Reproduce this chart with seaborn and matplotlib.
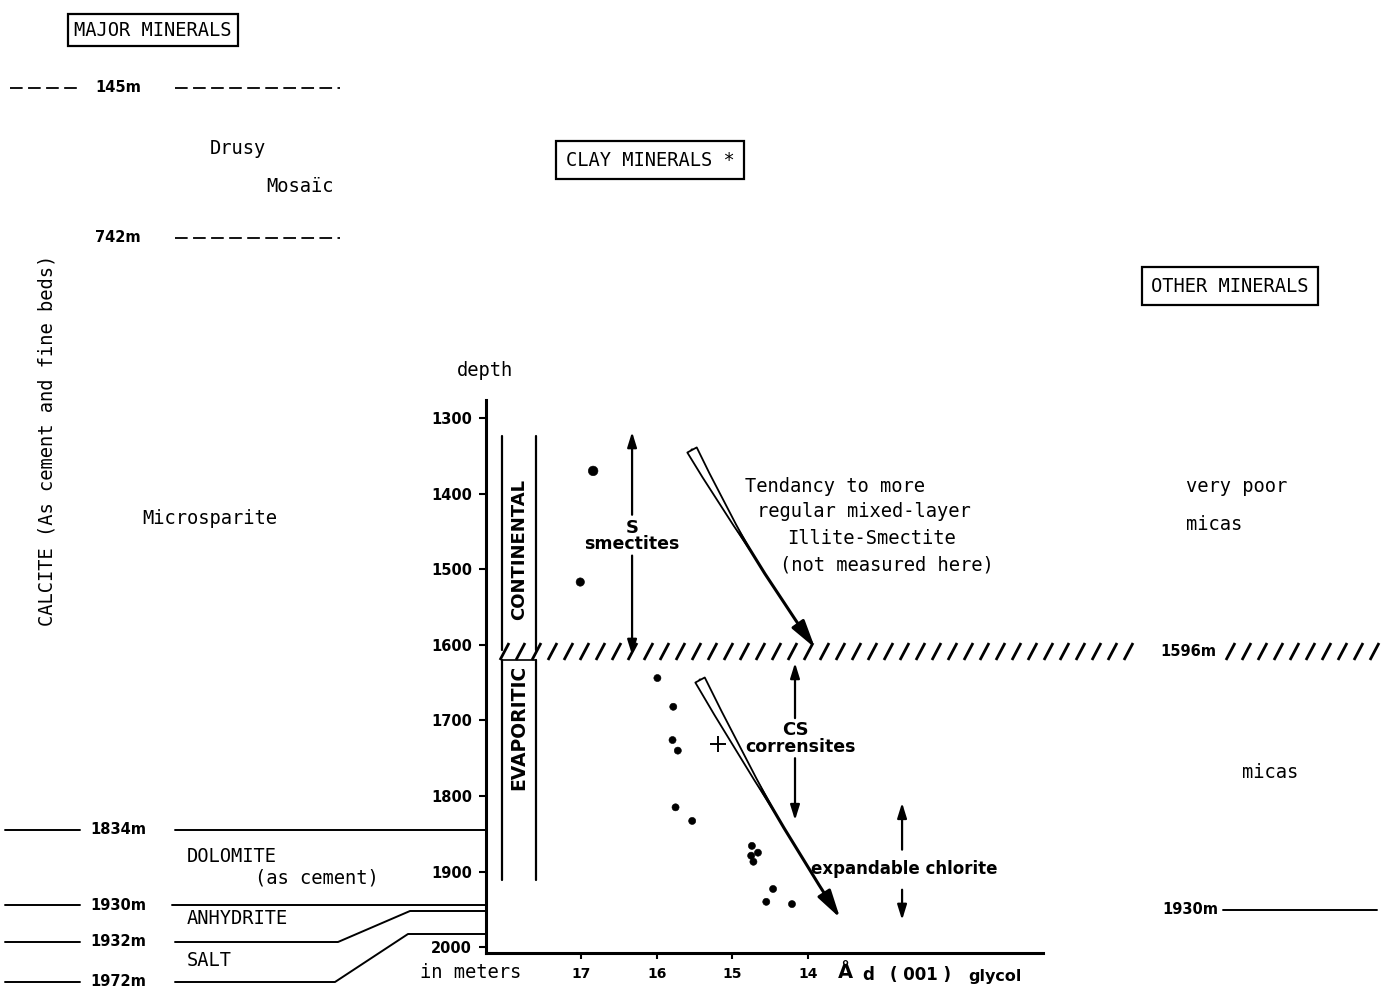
import numpy as np
import pandas as pd
import matplotlib
matplotlib.use("Agg")
import matplotlib.pyplot as plt
import seaborn as sns
from matplotlib.patches import FancyArrowPatch

# ---------------- data ----------------
d_spacing = [16.84, 17.01, 15.99, 15.78, 15.79, 15.72, 15.75, 15.53,
             14.74, 14.66, 14.75, 14.72, 14.46, 14.55, 14.21]
depth_m = [1370, 1517, 1644, 1682, 1726, 1740, 1815, 1833,
           1866, 1875, 1879, 1887, 1923, 1940, 1943]
dot_size = [48, 36, 26, 26, 26, 26, 26, 26, 26, 26, 26, 26, 26, 26, 26]
cross_d = [15.19]
cross_depth = [1731]
depth_ticks = [1300, 1400, 1500, 1600, 1700, 1800, 1900, 2000]
d_ticks = [17, 16, 15, 14]
d_tick_labels = ["17", "16", "15", "14"]
major_depth_labels = ["145m", "742m", "1834m", "1930m", "1932m", "1972m"]
other_depth_labels = ["1596m", "1930m"]

df = pd.DataFrame({"d": d_spacing, "depth": depth_m, "size": dot_size})

# ---------------- figure ----------------
sns.set_style("white")
plt.rcParams["font.family"] = ["DejaVu Sans"]
plt.rcParams["text.color"] = "black"
plt.rcParams["xtick.color"] = "black"
plt.rcParams["ytick.color"] = "black"
plt.rcParams["axes.labelcolor"] = "black"
W, H = 1389, 990
fig = plt.figure(figsize=(W / 100, H / 100), dpi=100)

MONO = "DejaVu Sans Mono"
BOLD = dict(family="DejaVu Sans", fontweight="bold")

# overlay in figure pixel space for the schematic column annotations
ov = fig.add_axes([0, 0, 1, 1], zorder=0)
ov.set_xlim(0, W)
ov.set_ylim(H, 0)
ov.axis("off")

# main clay-mineral axes
ax = fig.add_axes([486 / W, 1 - 953 / H, (1043 - 486) / W, (953 - 400) / H], zorder=1)
ax.patch.set_alpha(0)

# scatter points
sns.scatterplot(data=df, x="d", y="depth", size="size", sizes=(26, 48),
                color="black", edgecolor="black", legend=False, ax=ax, zorder=5)
ax.plot(cross_d, cross_depth, marker="+", color="black", ms=11, mew=1.4, ls="none")

ax.set_xlim(18.257, 10.89)
ax.set_ylim(2007.7, 1276.2)
ax.set_xlabel("")
ax.set_ylabel("")
for s in ["top", "right"]:
    ax.spines[s].set_visible(False)
for s in ["left", "bottom"]:
    ax.spines[s].set_linewidth(2.2)
    ax.spines[s].set_color("black")

ax.set_yticks(depth_ticks)
ax.set_yticklabels([str(t) for t in depth_ticks], fontsize=10.5, **BOLD)
ax.set_xticks(d_ticks)
ax.set_xticklabels(d_tick_labels, fontsize=10, **BOLD)
ax.tick_params(axis="y", direction="out", length=5, width=1.5, pad=5, left=True)
ax.tick_params(axis="x", direction="out", length=4, width=1.5, pad=6, bottom=True)

# CONTINENTAL / EVAPORITIC boxes
for xv in [18.045, 17.595]:
    ax.plot([xv, xv], [1323.8, 1606.9], color="black", lw=1.6)
    ax.plot([xv, xv], [1620, 1911], color="black", lw=1.6)
ax.plot([18.045, 17.595], [1620, 1620], color="black", lw=1.2)
ax.text(17.82, 1474.6, "CONTINENTAL", rotation=90, ha="center", va="center",
        fontsize=13, **BOLD)
ax.text(17.82, 1709, "EVAPORITIC", rotation=90, ha="center", va="center",
        fontsize=13.5, **BOLD)

# vertical double arrows (split around labels)
def varrow(x, y_from, y_to):
    ax.annotate("", xy=(x, y_to), xytext=(x, y_from),
                arrowprops=dict(arrowstyle="-|>,head_length=0.9,head_width=0.28",
                                lw=1.6, color="black", shrinkA=0, shrinkB=0))

varrow(16.325, 1428, 1318.5)
varrow(16.325, 1482, 1613.5)
ax.text(16.325, 1445, "S", ha="center", va="center", fontsize=13, **BOLD)
ax.text(16.325, 1467, "smectites", ha="center", va="center", fontsize=12.5, **BOLD)

varrow(14.17, 1697, 1624)
varrow(14.17, 1750, 1832)
ax.text(14.17, 1713, "CS", ha="center", va="center", fontsize=13, **BOLD)
ax.text(14.10, 1735, "corrensites", ha="center", va="center", fontsize=12.5, **BOLD)

varrow(12.754, 1871, 1809)
varrow(12.754, 1924, 1964)
ax.text(12.72, 1897, "expandable chlorite", ha="center", va="center", fontsize=12, **BOLD)

# curved hollow trend arrows
def trend_arrow(p0, p1, rad, hollow_cut):
    line = FancyArrowPatch(p0, p1, connectionstyle=f"arc3,rad={rad}",
                           arrowstyle="-|>,head_length=1.2,head_width=0.32",
                           mutation_scale=14, lw=2.2, color="black", zorder=3,
                           shrinkA=0, shrinkB=0)
    ax.add_patch(line)
    wedge = FancyArrowPatch(p0, p1, connectionstyle=f"arc3,rad={rad}",
                            arrowstyle="wedge,tail_width=0.55,shrink_factor=0.5",
                            mutation_scale=14, lw=1.3, fc="white", ec="black", zorder=4,
                            shrinkA=0, shrinkB=hollow_cut)
    ax.add_patch(wedge)

trend_arrow((15.532, 1342.3), (13.905, 1604.2), 0.03, 85)
trend_arrow((15.426, 1646.6), (13.574, 1961.4), 0.02, 90)

tend_lines = ["Tendancy to more", "regular mixed-layer", "Illite-Smectite", "(not measured here)"]
tend_x = [14.83, 14.672, 14.275, 14.368]
tend_y = [1390, 1424, 1460, 1494]
for t, xx, yy in zip(tend_lines, tend_x, tend_y):
    ax.text(xx, yy, t, ha="left", va="center", fontsize=13.5, family=MONO)

# ---------------- overlay annotations ----------------
box = dict(boxstyle="square,pad=0.35", fc="white", ec="black", lw=1.6)
ov.text(153, 30, "MAJOR MINERALS", ha="center", va="center", fontsize=13.5, family=MONO, bbox=box)
ov.text(650, 160, "CLAY MINERALS *", ha="center", va="center", fontsize=13.5, family=MONO,
        bbox=dict(boxstyle="square,pad=0.5", fc="white", ec="black", lw=1.6))
ov.text(1230, 286, "OTHER MINERALS", ha="center", va="center", fontsize=13.5, family=MONO,
        bbox=dict(boxstyle="square,pad=0.5", fc="white", ec="black", lw=1.6))

lab_y = [88, 238, 830, 905, 942, 982]
for lab, yy in zip(major_depth_labels, lab_y):
    ov.text(118, yy, lab, ha="center", va="center", fontsize=10.5, **BOLD)

# 145 m / 742 m dashed limits
ov.plot([10, 80], [88, 88], color="black", lw=1.3, ls=(0, (7, 3)))
ov.plot([175, 340], [88, 88], color="black", lw=1.3, ls=(0, (7, 3)))
ov.plot([175, 340], [238, 238], color="black", lw=1.3, ls=(0, (7, 3)))

# solid limits
for yy in [830, 905, 942, 982]:
    ov.plot([5, 80], [yy, yy], color="black", lw=1.4)
ov.plot([175, 486], [830, 830], color="black", lw=1.4)
ov.plot([172, 486], [905, 905], color="black", lw=1.4)
ov.plot([175, 338, 410, 486], [942, 942, 911, 911], color="black", lw=1.4)
ov.plot([175, 335, 408, 486], [982, 982, 934, 934], color="black", lw=1.4)

ov.text(238, 148, "Drusy", ha="center", va="center", fontsize=13.5, family=MONO)
ov.text(300, 186, "Mosaïc", ha="center", va="center", fontsize=13.5, family=MONO)
ov.text(47, 440, "CALCITE (As cement and fine beds)", rotation=90, ha="center",
        va="center", fontsize=13.5, family=MONO)
ov.text(210, 519, "Microsparite", ha="center", va="center", fontsize=13.5, family=MONO)
ov.text(187, 857, "DOLOMITE", ha="left", va="center", fontsize=13.5, family=MONO)
ov.text(255, 878, "(as cement)", ha="left", va="center", fontsize=13.5, family=MONO)
ov.text(187, 918, "ANHYDRITE", ha="left", va="center", fontsize=13.5, family=MONO)
ov.text(187, 960, "SALT", ha="left", va="center", fontsize=13.5, family=MONO)

ov.text(485, 370, "depth", ha="center", va="center", fontsize=13.5, family=MONO)
ov.text(471, 972, "in meters", ha="center", va="center", fontsize=13.5, family=MONO)
ov.text(845, 972, "Å", ha="center", va="center", fontsize=14, **BOLD)
ov.text(868, 975, "d", ha="center", va="center", fontsize=12, **BOLD)
ov.text(920, 975, "( 001 )", ha="center", va="center", fontsize=12, **BOLD)
ov.text(995, 977, "glycol", ha="center", va="center", fontsize=11.5, **BOLD)

# right column
ov.text(1237, 487, "very poor", ha="center", va="center", fontsize=13.5, family=MONO)
ov.text(1214, 524, "micas", ha="center", va="center", fontsize=13.5, family=MONO)
ov.text(1270, 773, "micas", ha="center", va="center", fontsize=13.5, family=MONO)
ov.text(1188, 652, other_depth_labels[0], ha="center", va="center", fontsize=10.5, **BOLD)
ov.text(1190, 910, other_depth_labels[1], ha="center", va="center", fontsize=10.5, **BOLD)
ov.plot([1223, 1377], [910, 910], color="black", lw=1.4)

# hatched unconformity line (continental / evaporitic boundary)
for x0 in np.concatenate([np.arange(500, 1135, 16), np.arange(1226, 1372, 16)]):
    ov.plot([x0, x0 + 9], [660, 643], color="black", lw=2.0, solid_capstyle="butt")

fig.savefig("out.png", dpi=100)
